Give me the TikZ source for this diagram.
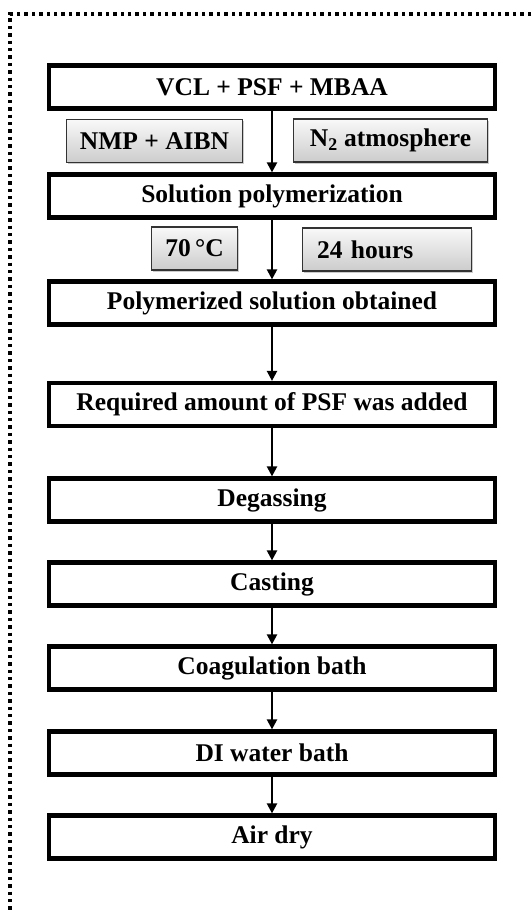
\documentclass[tikz,border=0pt]{standalone}
\usepackage{fontspec}
\setmainfont{Liberation Serif}
\usepackage{tikz}
\usetikzlibrary{arrows.meta,shadows,positioning}

\begin{document}
\begin{tikzpicture}[x=1pt, y=-1pt, >={Triangle[width=10pt,length=10pt]},
  stepnode/.style={draw=black, line width=4.2pt, rectangle, minimum width=446pt, minimum height=43pt, inner sep=0pt, font=\bfseries\fontsize{25.5}{28}\selectfont},
  graynode/.style={draw=gray!40!black, line width=1.3pt, rectangle, top color=gray!5, bottom color=gray!40, inner sep=0pt, minimum height=43pt, font=\bfseries\fontsize{25.5}{28}\selectfont, drop shadow={shadow xshift=1.5pt, shadow yshift=-1.5pt, opacity=0.4}},
  frameline/.style={line width=3.6pt, dash pattern=on 3.4pt off 4pt}]
        \useasboundingbox (0,0) rectangle (531,913);
        \draw[frameline] (531,14) -- (10,14) -- (10,913);
        % process steps
        \node[stepnode] (0) at (272,87) {VCL + PSF + MBAA};
        \node[stepnode] (1) at (272,196) {Solution polymerization};
        \node[stepnode] (2) at (272,303) {Polymerized solution obtained};
        \node[stepnode] (3) at (272,404.5) {Required amount of PSF was added};
        \node[stepnode] (4) at (272,500) {Degassing};
        \node[stepnode] (5) at (272,584) {Casting};
        \node[stepnode] (6) at (272,668) {Coagulation bath};
        \node[stepnode] (7) at (272,753) {DI water bath};
        \node[stepnode] (8) at (272,837) {Air dry};
        % conditions
        \node[graynode, minimum width=176pt] (g0) at (154.5,141) {NMP + AIBN};
        \node[graynode, minimum width=194pt] (g1) at (390.5,140.5) {N\textsubscript{2} atmosphere};
        \node[graynode, minimum width=86pt] (g2) at (194.5,248.5) {70\,°C};
        \node[graynode, text width=140pt, inner xsep=14.5pt, align=left] (g3) at (387,249.5) {24 hours};
        \draw[->, line width=2.2pt] (0) -- (1);
        \draw[->, line width=2.2pt] (1) -- (2);
        \draw[->, line width=2.2pt] (2) -- (3);
        \draw[->, line width=2.2pt] (3) -- (4);
        \draw[->, line width=2.2pt] (4) -- (5);
        \draw[->, line width=2.2pt] (5) -- (6);
        \draw[->, line width=2.2pt] (6) -- (7);
        \draw[->, line width=2.2pt] (7) -- (8);
    \end{tikzpicture}
\end{document}
